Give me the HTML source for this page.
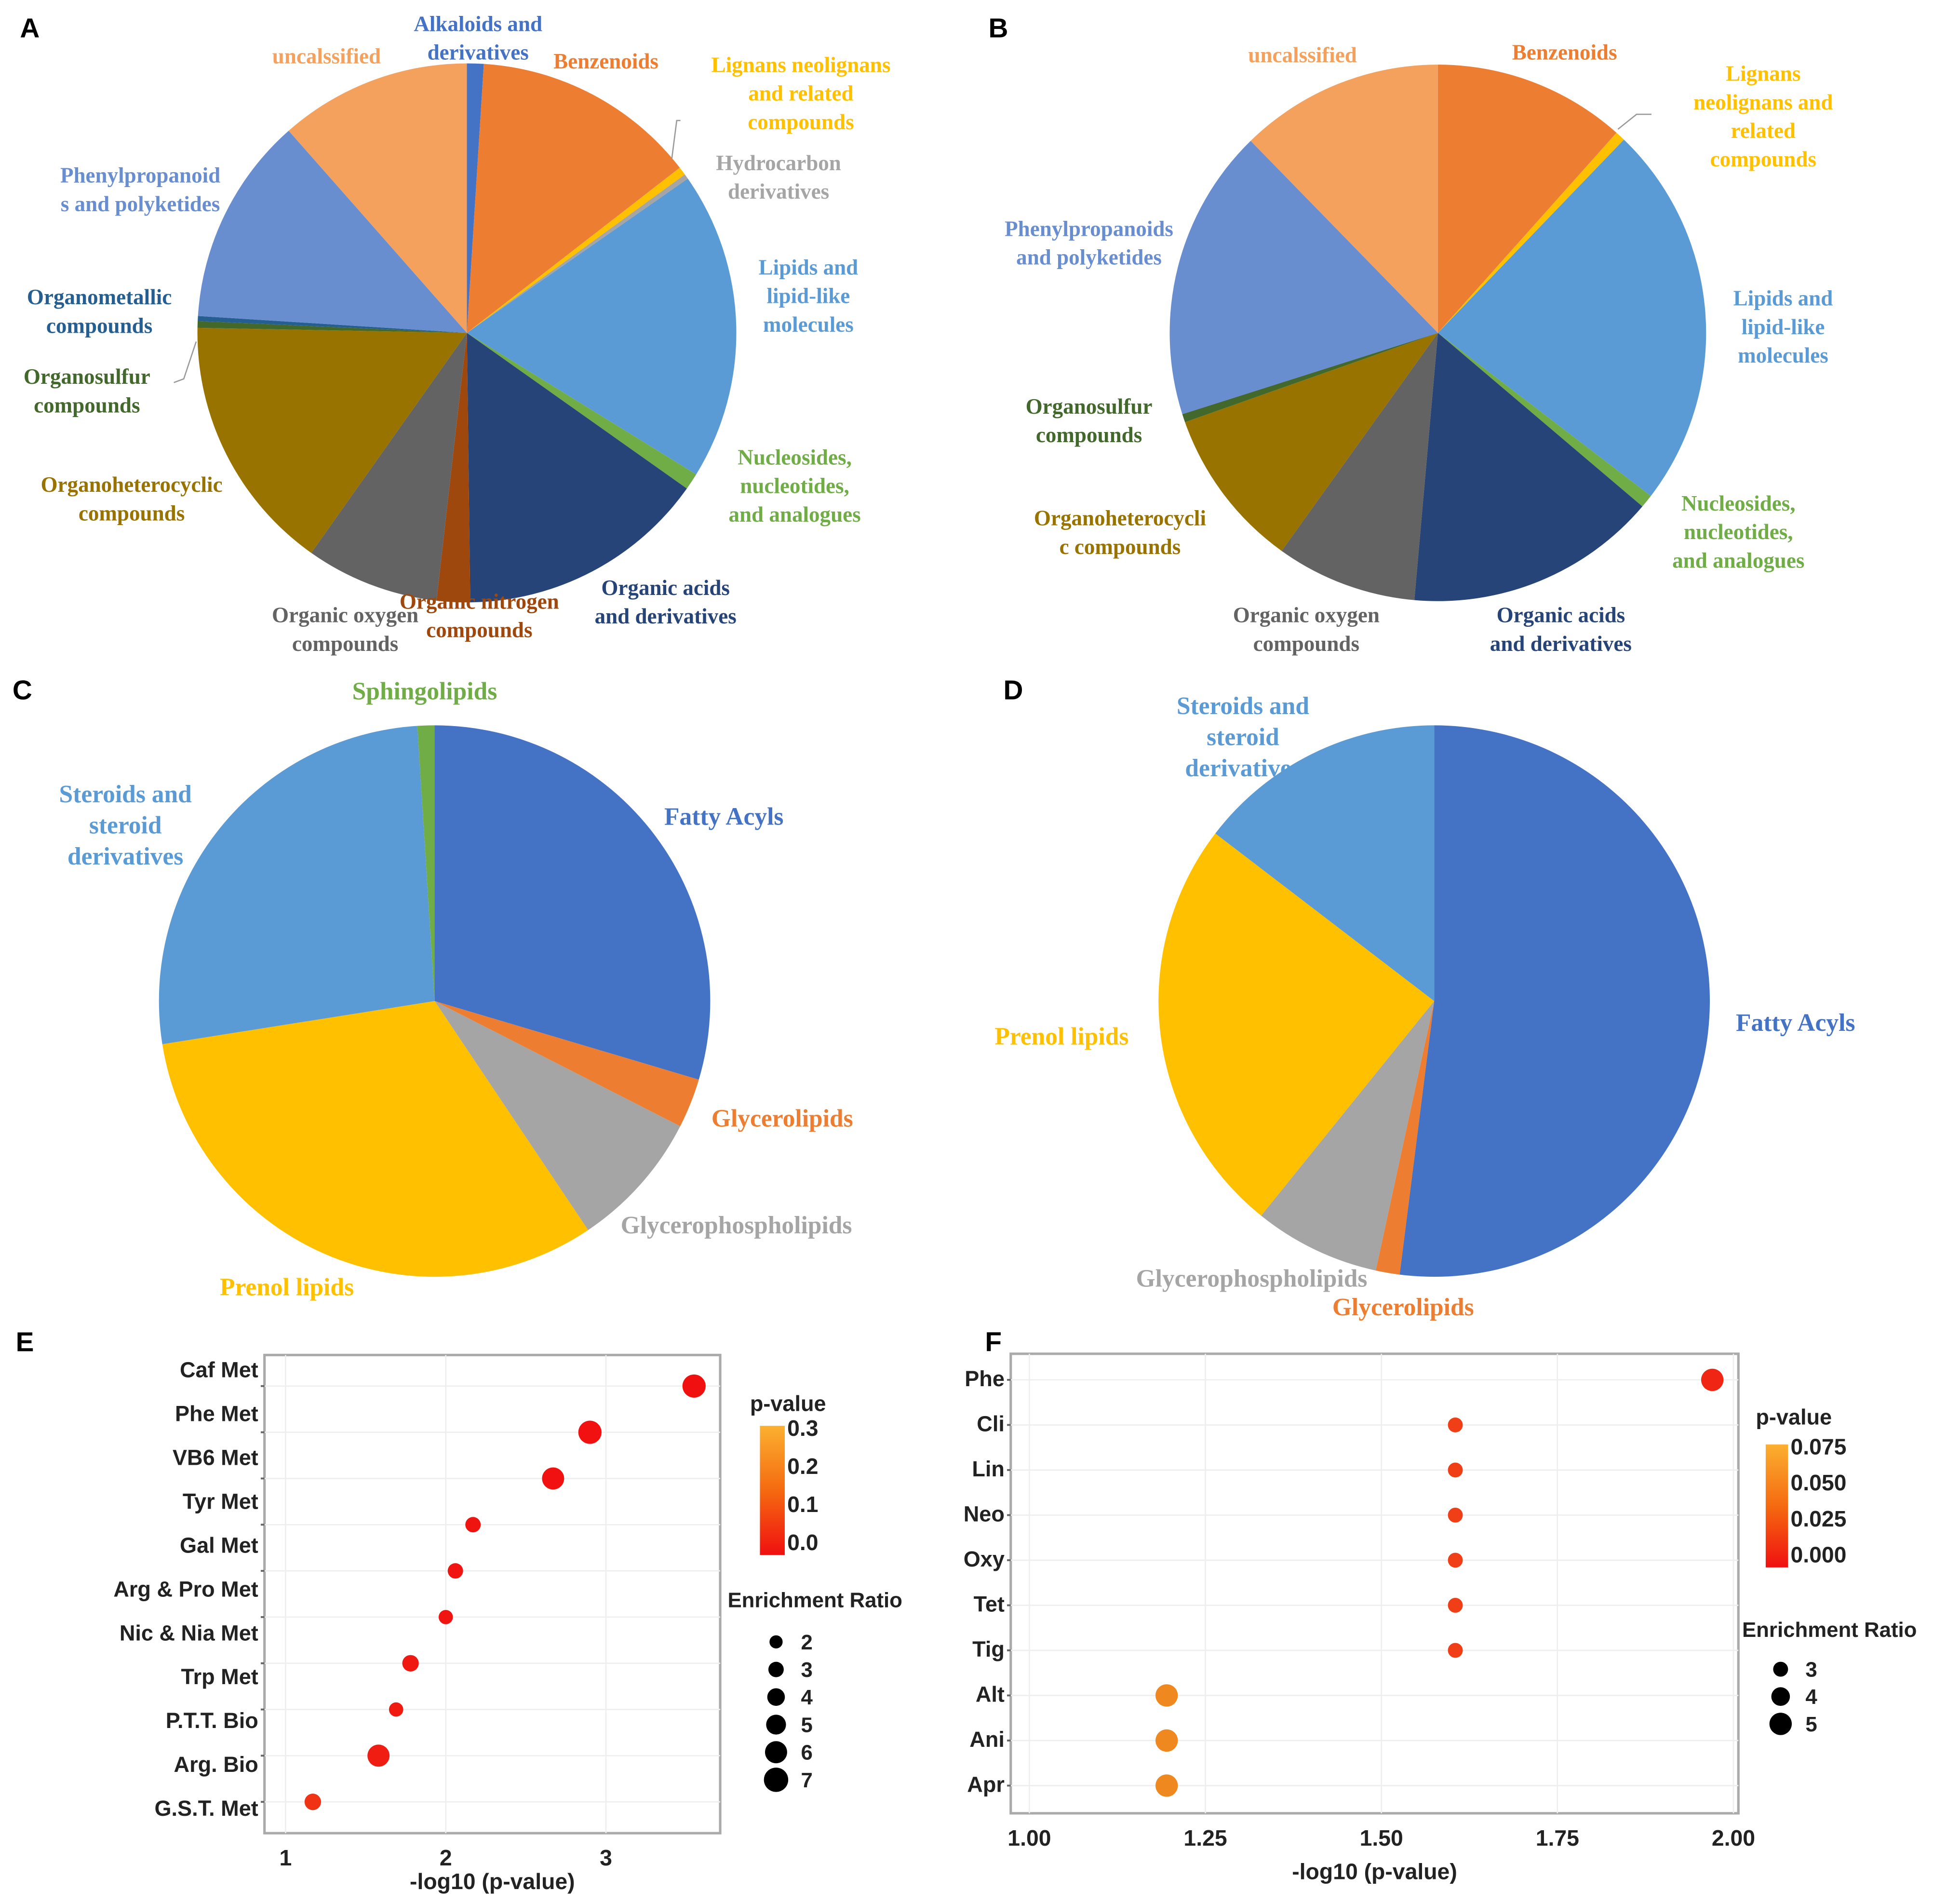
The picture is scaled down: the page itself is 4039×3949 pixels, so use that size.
<!DOCTYPE html>
<html><head><meta charset="utf-8"><style>
html,body{margin:0;padding:0;background:#fff;}
svg{display:block;}
text{font-family:"Liberation Serif",serif;font-weight:bold;}
.sans{font-family:"Liberation Sans",sans-serif;}
</style></head><body>
<svg id="fig" width="4039" height="3949" viewBox="0 0 1568 1533" xmlns="http://www.w3.org/2000/svg">
<rect width="1568" height="1533" fill="#fff"/>
</svg>
<script>
// ---- Pie data ----
const pieALabels = ["Alkaloids","Benzenoids","Lignans","Hydrocarbon","Lipids","Nucleosides","Organic acids","Organic nitrogen","Organic oxygen","Organoheterocyclic","Organosulfur","Organometallic","Phenylpropanoids","Unclassified"];
const pieAValues = [1,13.5,0.5,0.3,18.5,1,15,2,8,15.5,0.4,0.3,12.5,11.5];
const pieAColors = ["#4472C4","#ED7D31","#FFC000","#A5A5A5","#5B9BD5","#70AD47","#264478","#9E480E","#636363","#997300","#43682B","#255E91","#698ED0","#F4A15E"];

const pieBLabels = ["Benzenoids","Lignans","Lipids","Nucleosides","Organic acids","Organic oxygen","Organoheterocyclic","Organosulfur","Phenylpropanoids","Unclassified"];
const pieBValues = [11.6,0.6,23.2,0.8,15.2,8.5,9.7,0.5,17.6,12.3];
const pieBColors = ["#ED7D31","#FFC000","#5B9BD5","#70AD47","#264478","#636363","#997300","#43682B","#698ED0","#F4A15E"];

const pieCLabels = ["Fatty Acyls","Glycerolipids","Glycerophospholipids","Prenol lipids","Steroids","Sphingolipids"];
const pieCValues = [29.6,2.9,8.1,31.9,26.5,1];
const pieCColors = ["#4472C4","#ED7D31","#A5A5A5","#FFC000","#5B9BD5","#70AD47"];

const pieDLabels = ["Fatty Acyls","Glycerolipids","Glycerophospholipids","Prenol lipids","Steroids"];
const pieDValues = [52,1.4,7.4,24.6,14.6];
const pieDColors = ["#4472C4","#ED7D31","#A5A5A5","#FFC000","#5B9BD5"];

// ---- Dot plot E ----
const eLabels = ["Caf Met","Phe Met","VB6 Met","Tyr Met","Gal Met","Arg & Pro Met","Nic & Nia Met","Trp Met","P.T.T. Bio","Arg. Bio","G.S.T. Met"];
const eX = [3.55,2.9,2.67,2.17,2.06,2.0,1.78,1.69,1.58,1.17];
const eRatio = [6.5,6.5,6,3,3,2.5,3.5,2.5,6,3.5];
const ePval = [0.0003,0.001,0.002,0.007,0.009,0.01,0.017,0.02,0.026,0.068];
const eTicks = [1,2,3];
const eLegendRatios = [2,3,4,5,6,7];
const eBarTicks = ["0.3","0.2","0.1","0.0"];

// ---- Dot plot F ----
const fLabels = ["Phe","Cli","Lin","Neo","Oxy","Tet","Tig","Alt","Ani","Apr"];
const fX = [1.97,1.605,1.605,1.605,1.605,1.605,1.605,1.195,1.195,1.195];
const fRatio = [5,3,3,3,3,3,3,5,5,5];
const fPval = [0.011,0.025,0.025,0.025,0.025,0.025,0.025,0.064,0.064,0.064];
const fTicks = [1.00,1.25,1.50,1.75,2.00];
const fLegendRatios = [3,4,5];
const fBarTicks = ["0.075","0.050","0.025","0.000"];

const NS="http://www.w3.org/2000/svg";
const svg=document.getElementById('fig');
function mk(tag,attrs,parent){const e=document.createElementNS(NS,tag);for(const k in attrs)e.setAttribute(k,attrs[k]);(parent||svg).appendChild(e);return e;}
function txt(str,x,y,attrs){const t=mk('text',Object.assign({x:x,y:y},attrs||{}));t.textContent=str;return t;}

function drawPie(id,cx,cy,r,values,colors,labels){
  const g=mk('g',{});
  
  
  const total=values.reduce((a,b)=>a+b,0);
  let acc=0;
  values.forEach((v,i)=>{
    const a0=acc/total*2*Math.PI; acc+=v; const a1=acc/total*2*Math.PI;
    const x0=cx+r*Math.sin(a0),y0=cy-r*Math.cos(a0),x1=cx+r*Math.sin(a1),y1=cy-r*Math.cos(a1);
    const large=(a1-a0)>Math.PI?1:0;
    const p=mk('path',{d:`M${cx},${cy} L${x0},${y0} A${r},${r} 0 ${large} 1 ${x1},${y1} Z`,fill:colors[i]},g);
    
    
  });
}
drawPie('pie-a',376,268,217,pieAValues,pieAColors,pieALabels);
drawPie('pie-b',1158,268,216,pieBValues,pieBColors,pieBLabels);
drawPie('pie-c',350,806,222,pieCValues,pieCColors,pieCLabels);
drawPie('pie-d',1155,806,222,pieDValues,pieDColors,pieDLabels);

function lbl(name,lines,x,y,color,size,lh,weight){
  const t=mk('text',{x:x,y:y,fill:color,'font-size':size,'text-anchor':'middle','font-weight':weight||'bold'});
  
  
  lines.forEach((l,i)=>{const s=mk('tspan',{x:x,dy:i?lh:0},t);s.textContent=l;});
}
// A labels
lbl('label-a-alkaloids',["Alkaloids and","derivatives"],385,25,"#4472C4",17.5,23);
lbl('label-a-benzenoids',["Benzenoids"],488,55,"#ED7D31",17.5,23);
lbl('label-a-unclassified',["uncalssified"],263,51,"#F4A15E",17.5,23,'normal');
lbl('label-a-lignans',["Lignans neolignans","and related","compounds"],645,58,"#FFC000",17.5,23);
lbl('label-a-hydrocarbon',["Hydrocarbon","derivatives"],627,137,"#A5A5A5",17.5,23,'normal');
lbl('label-a-phenyl',["Phenylpropanoid","s and polyketides"],113,147,"#698ED0",17.5,23);
lbl('label-a-lipids',["Lipids and","lipid-like","molecules"],651,221,"#5B9BD5",17.5,23);
lbl('label-a-organometallic',["Organometallic","compounds"],80,245,"#255E91",17.5,23);
lbl('label-a-organosulfur',["Organosulfur","compounds"],70,309,"#43682B",17.5,23);
lbl('label-a-organoheterocyclic',["Organoheterocyclic","compounds"],106,396,"#997300",17.5,23);
lbl('label-a-nucleosides',["Nucleosides,","nucleotides,","and analogues"],640,374,"#70AD47",17.5,23);
lbl('label-a-organic-acids',["Organic acids","and derivatives"],536,479,"#264478",17.5,23);
lbl('label-a-organic-nitrogen',["Organic nitrogen","compounds"],386,490,"#9E480E",17.5,23);
lbl('label-a-organic-oxygen',["Organic oxygen","compounds"],278,501,"#636363",17.5,23,'normal');
mk('polyline',{points:"548,97 545,97 541,128",fill:"none",stroke:"#999",'stroke-width':1});
mk('polyline',{points:"158,275 148,305 140,308",fill:"none",stroke:"#999",'stroke-width':1});
// B labels
lbl('label-b-unclassified',["uncalssified"],1049,50,"#F4A15E",17.5,23,'normal');
lbl('label-b-benzenoids',["Benzenoids"],1260,48,"#ED7D31",17.5,23);
lbl('label-b-lignans',["Lignans","neolignans and","related","compounds"],1420,65,"#FFC000",17.5,23);
lbl('label-b-phenyl',["Phenylpropanoids","and polyketides"],877,190,"#698ED0",17.5,23);
lbl('label-b-lipids',["Lipids and","lipid-like","molecules"],1436,246,"#5B9BD5",17.5,23);
lbl('label-b-organosulfur',["Organosulfur","compounds"],877,333,"#43682B",17.5,23);
lbl('label-b-organoheterocyclic',["Organoheterocycli","c compounds"],902,423,"#997300",17.5,23);
lbl('label-b-nucleosides',["Nucleosides,","nucleotides,","and analogues"],1400,411,"#70AD47",17.5,23);
lbl('label-b-organic-oxygen',["Organic oxygen","compounds"],1052,501,"#636363",17.5,23,'normal');
lbl('label-b-organic-acids',["Organic acids","and derivatives"],1257,501,"#264478",17.5,23);
mk('polyline',{points:"1303,104 1318,92 1330,92",fill:"none",stroke:"#999",'stroke-width':1});
// C labels
lbl('label-c-sphingolipids',["Sphingolipids"],342,563,"#70AD47",20,25);
lbl('label-c-steroids',["Steroids and","steroid","derivatives"],101,646,"#5B9BD5",20,25);
lbl('label-c-fatty-acyls',["Fatty Acyls"],583,664,"#4472C4",20,25);
lbl('label-c-glycerolipids',["Glycerolipids"],630,907,"#ED7D31",20,25);
lbl('label-c-glycerophospholipids',["Glycerophospholipids"],593,993,"#A5A5A5",20,25);
lbl('label-c-prenol',["Prenol lipids"],231,1043,"#FFC000",20,25);
// D labels
lbl('label-d-steroids',["Steroids and","steroid","derivatives"],1001,575,"#5B9BD5",20,25);
lbl('label-d-prenol',["Prenol lipids"],855,841,"#FFC000",20,25);
lbl('label-d-fatty-acyls',["Fatty Acyls"],1446,830,"#4472C4",20,25);
lbl('label-d-glycerophospholipids',["Glycerophospholipids"],1008,1036,"#A5A5A5",20,25);
lbl('label-d-glycerolipids',["Glycerolipids"],1130,1059,"#ED7D31",20,25);

// panel letters
[["A",24,30],["B",804,30],["C",18,563],["D",816,563],["E",20,1088],["F",800,1088]].forEach(p=>{
  const t=txt(p[0],p[1],p[2],{'font-size':22,fill:'#000','class':'sans','text-anchor':'middle'});
  
  
});

function pColor(p,max){const f=Math.min(1,p/max);const g=Math.round(16+f*150),b=Math.round(16+f*20);return `rgb(240,${g},${b})`;}

function dotPlot(o){
  const g=mk('g',{});
  
  
  const sx=v=>o.x0px+(v-o.v0)*o.pxPerUnit;
  const fr=mk('rect',{x:o.L,y:o.T,width:o.R-o.L,height:o.B-o.T,fill:'#fff',stroke:'#aaa','stroke-width':2},g);
  
  
  o.ticks.forEach(t=>{
    mk('line',{x1:sx(t),x2:sx(t),y1:o.T,y2:o.B,stroke:'#eee','stroke-width':1},g);
    const tl=txt(o.fmt(t),sx(t),o.tickY,{'font-size':18,'text-anchor':'middle','class':'sans',fill:'#222'});
    
    
  });
  o.dotY.forEach((y,i)=>{mk('line',{x1:o.L,x2:o.R,y1:y,y2:y,stroke:'#eee','stroke-width':1},g);mk('line',{x1:o.L-3,x2:o.L,y1:y,y2:y,stroke:'#666','stroke-width':1.5},g);});
  o.labels.forEach((l,i)=>{
    const t=txt(l,o.L-5,o.labelY(i),{'font-size':17.5,'text-anchor':'end','class':'sans',fill:'#222'});
    
    
  });
  o.xs.forEach((v,i)=>{
    const c=mk('circle',{cx:sx(v),cy:o.dotY[i],r:o.rad(o.ratio[i]),fill:pColor(o.pv[i],o.pmax)},g);
    
    
  });
  const xt=txt('-log10 (p-value)',(o.L+o.R)/2,o.xTitleY,{'font-size':18,'text-anchor':'middle','class':'sans',fill:'#222'});
  
  
  const gid='grad'+o.name;
  const defs=mk('defs',{},g);const lg=mk('linearGradient',{id:gid,x1:0,y1:1,x2:0,y2:0},defs);
  mk('stop',{offset:'0','stop-color':'#f01010'},lg);mk('stop',{offset:'0.5','stop-color':'#f56a10'},lg);mk('stop',{offset:'1','stop-color':'#fbb030'},lg);
  const pt=txt('p-value',o.cbX-8,o.cbTitleY,{'font-size':17.5,'class':'sans',fill:'#222'});
  
  
  const cb=mk('rect',{x:o.cbX,y:o.cbT,width:o.cbW,height:o.cbB-o.cbT,fill:`url(#${gid})`},g);
  
  
  o.cbTicks.forEach((s,i)=>{const t=txt(s,o.cbX+o.cbW+2,o.cbT+8+i*(o.cbB-o.cbT-12)/(o.cbTicks.length-1),{'font-size':18,'class':'sans',fill:'#222'});
    
    });
  const et=txt('Enrichment Ratio',o.erX,o.erY,{'font-size':17,'class':'sans',fill:'#222'});
  
  
  o.legR.forEach((r,i)=>{
    const y=o.legY0+i*o.legStep;
    const c=mk('circle',{cx:o.legX,cy:y,r:o.rad(r),fill:'#000'},g);
    
    
    const t=txt(String(r),o.legX+20,y+6,{'font-size':17,'class':'sans',fill:'#222'});
    
    
  });
}
dotPlot({name:'dotplot-e',L:213,R:580,T:1091,B:1476,v0:1,x0px:230,pxPerUnit:129,ticks:eTicks,fmt:t=>String(t),tickY:1502,
  dotY:eX.map((_,i)=>1116+i*37.2),labelY:i=>1109+i*35.3,labels:eLabels,xs:eX,ratio:eRatio,pv:ePval,pmax:0.3,
  rad:r=>3.5+r*0.9,xTitleY:1521,cbX:612,cbW:20,cbT:1148,cbB:1252,cbTitleY:1136,cbTicks:eBarTicks,
  erX:586,erY:1294,legR:eLegendRatios,legX:625,legY0:1322,legStep:22.2});
dotPlot({name:'dotplot-f',L:814,R:1400,T:1090,B:1460,v0:1,x0px:829,pxPerUnit:567,ticks:fTicks,fmt:t=>t.toFixed(2),tickY:1486,
  dotY:fX.map((_,i)=>1111+i*36.3),labelY:i=>1116+i*36.3,labels:fLabels,xs:fX,ratio:fRatio,pv:fPval,pmax:0.08,
  rad:r=>r*1.5+1.5,xTitleY:1513,cbX:1422,cbW:18,cbT:1163,cbB:1262,cbTitleY:1147,cbTicks:fBarTicks,
  erX:1403,erY:1318,legR:fLegendRatios,legX:1434,legY0:1344,legStep:22});
</script>
</body></html>
